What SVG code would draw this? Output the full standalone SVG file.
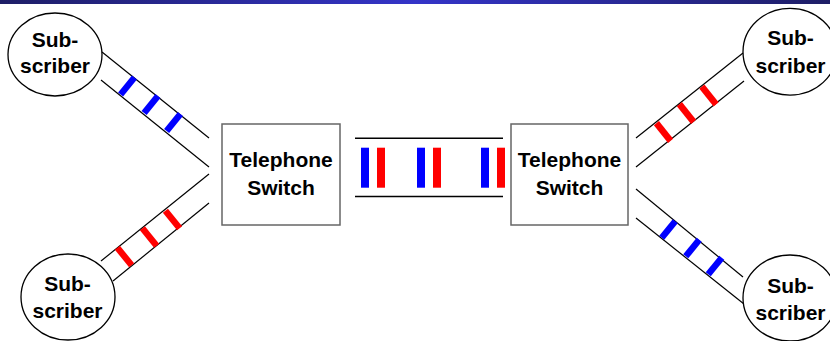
<svg xmlns="http://www.w3.org/2000/svg" width="830" height="341" viewBox="0 0 830 341">
  <defs>
    <linearGradient id="bar" x1="0" y1="0" x2="1" y2="0">
      <stop offset="0" stop-color="#1e1e66"/>
      <stop offset="0.5" stop-color="#3434c8"/>
      <stop offset="1" stop-color="#1e1e66"/>
    </linearGradient>
  </defs>
  <style>
    .sub { fill: #fff; stroke: #000; stroke-width: 1.3; }
    .box { fill: #fff; stroke: #666; stroke-width: 1.5; }
    .wire { stroke: #000; stroke-width: 1.2; fill: none; }
    .trunk { stroke: #000; stroke-width: 1.6; fill: none; }
    .blue { stroke: #0000ff; stroke-width: 6.5; }
    .red { stroke: #ff0000; stroke-width: 6.5; }
    .lbl { font-family: "Liberation Sans", Arial, sans-serif; font-weight: bold; font-size: 21px; fill: #000; text-anchor: middle; }
  </style>
  <rect x="0" y="0" width="830" height="4" fill="url(#bar)"/>

  <g id="connectors">
    <!-- top-left pair -->
    <line class="wire" x1="102" y1="52" x2="209" y2="138"/>
    <line class="wire" x1="101" y1="80" x2="209" y2="167"/>
    <line class="blue" x1="134.4" y1="77.5" x2="120.6" y2="94.5"/>
    <line class="blue" x1="157.9" y1="96" x2="144.1" y2="113"/>
    <line class="blue" x1="180.4" y1="114" x2="166.6" y2="131"/>
    <!-- bottom-left pair -->
    <line class="wire" x1="101" y1="261" x2="209" y2="174"/>
    <line class="wire" x1="113" y1="281" x2="209" y2="203"/>
    <line class="red" x1="117.4" y1="247.7" x2="131.6" y2="265.3"/>
    <line class="red" x1="142.4" y1="228.2" x2="156.6" y2="245.8"/>
    <line class="red" x1="165.4" y1="210.7" x2="179.6" y2="228.3"/>
    <!-- top-right pair -->
    <line class="wire" x1="636" y1="138" x2="743" y2="53"/>
    <line class="wire" x1="636" y1="167" x2="744" y2="81"/>
    <line class="red" x1="656.4" y1="123.1" x2="670.6" y2="140.9"/>
    <line class="red" x1="679.4" y1="104.1" x2="693.6" y2="121.9"/>
    <line class="red" x1="701.9" y1="86.6" x2="716.1" y2="104.4"/>
    <!-- bottom-right pair -->
    <line class="wire" x1="636" y1="189" x2="743" y2="277"/>
    <line class="wire" x1="636" y1="218" x2="744" y2="304"/>
    <line class="blue" x1="675.25" y1="221.2" x2="661.75" y2="237.8"/>
    <line class="blue" x1="699.25" y1="239.7" x2="685.75" y2="256.3"/>
    <line class="blue" x1="721.75" y1="257.7" x2="708.25" y2="274.3"/>
    <!-- trunk between switches -->
    <line class="trunk" x1="355" y1="138.3" x2="503" y2="138.3"/>
    <line class="trunk" x1="355" y1="196.5" x2="503" y2="196.5"/>
    <rect x="361" y="147.7" width="8" height="40" fill="#0000ff"/>
    <rect x="377" y="147.7" width="8" height="40" fill="#ff0000"/>
    <rect x="417" y="147.7" width="8" height="40" fill="#0000ff"/>
    <rect x="433" y="147.7" width="8" height="40" fill="#ff0000"/>
    <rect x="481" y="147.7" width="8" height="40" fill="#0000ff"/>
    <rect x="497" y="147.7" width="8" height="40" fill="#ff0000"/>
  </g>

  <g id="sub-tl">
    <ellipse class="sub" cx="55" cy="54.5" rx="47" ry="41.5"/>
    <text class="lbl" x="55" y="46.5">Sub-</text>
    <text class="lbl" x="55" y="72.5">scriber</text>
  </g>
  <g id="sub-bl">
    <ellipse class="sub" cx="68" cy="297" rx="47" ry="43"/>
    <text class="lbl" x="67.5" y="291">Sub-</text>
    <text class="lbl" x="67.5" y="318">scriber</text>
  </g>
  <g id="sub-tr">
    <ellipse class="sub" cx="790" cy="51.7" rx="47" ry="43.4"/>
    <text class="lbl" x="790.5" y="45">Sub-</text>
    <text class="lbl" x="790.5" y="72.5">scriber</text>
  </g>
  <g id="sub-br">
    <ellipse class="sub" cx="790" cy="298" rx="47" ry="43"/>
    <text class="lbl" x="790.5" y="293">Sub-</text>
    <text class="lbl" x="790.5" y="320">scriber</text>
  </g>

  <g id="switch-left">
    <rect class="box" x="222" y="124" width="118" height="101"/>
    <text class="lbl" x="281" y="166.7">Telephone</text>
    <text class="lbl" x="281" y="195">Switch</text>
  </g>
  <g id="switch-right">
    <rect class="box" x="511" y="124" width="117" height="101"/>
    <text class="lbl" x="569.5" y="166.7">Telephone</text>
    <text class="lbl" x="569.5" y="195">Switch</text>
  </g>
</svg>
